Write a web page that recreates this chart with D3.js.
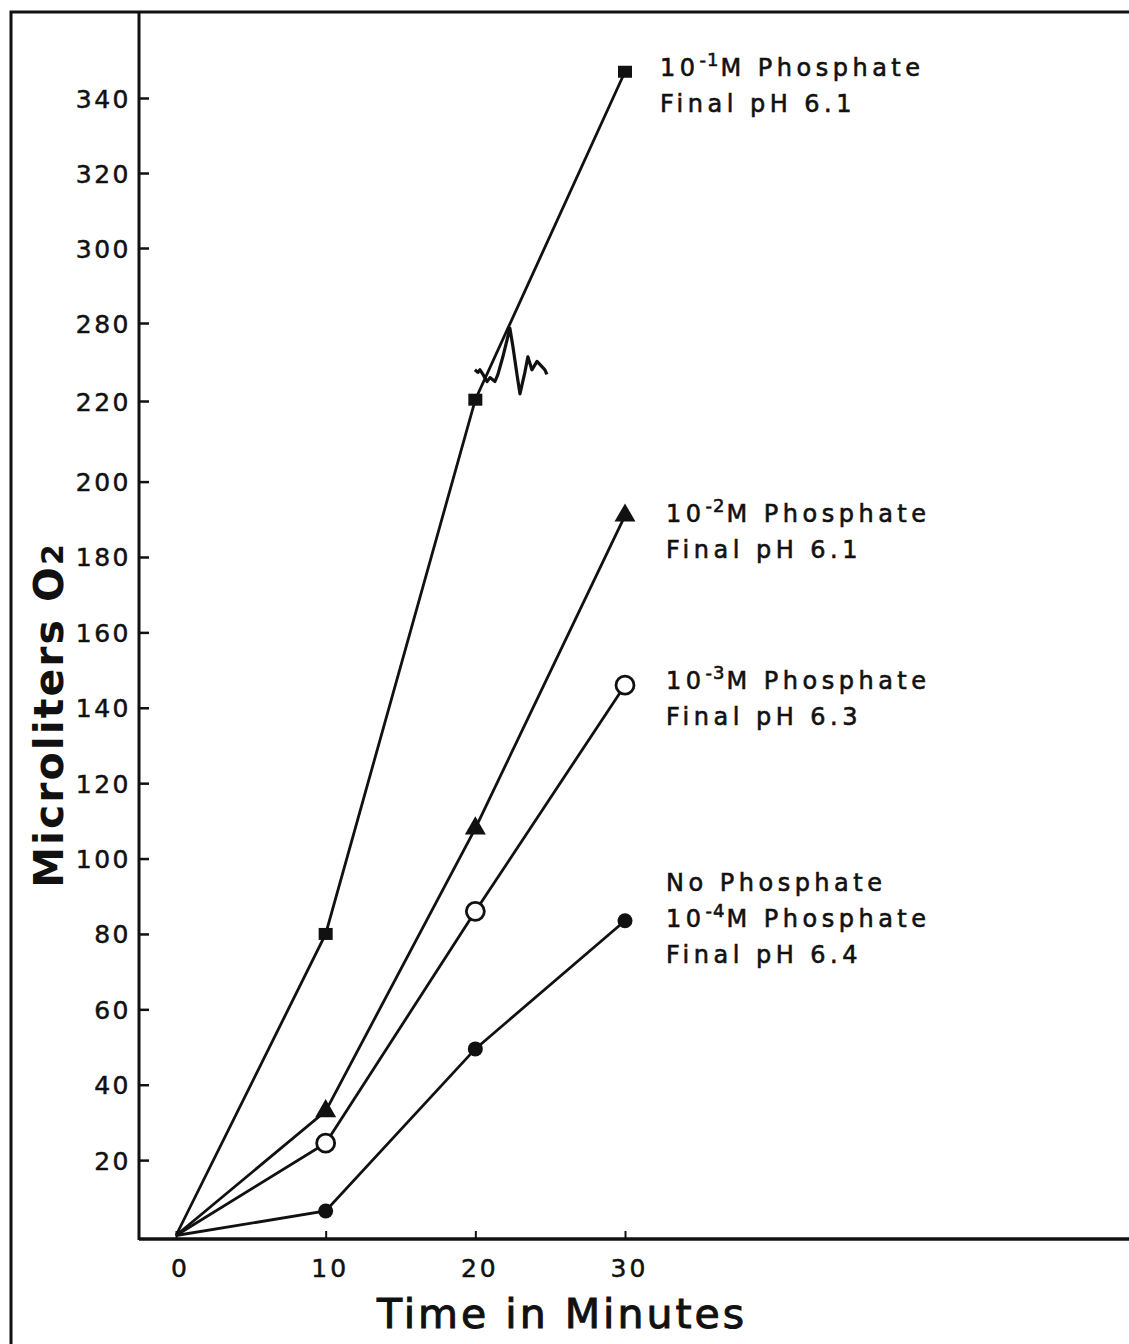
<!DOCTYPE html>
<html>
<head>
<meta charset="utf-8">
<script src="https://cdn.jsdelivr.net/npm/d3@7"></script>
<style>
  body { margin: 0; background: #fff; }
  svg { display: block; }
  text { font-family: "DejaVu Sans", sans-serif; fill: #111; }
</style>
</head>
<body>
<script>
// Data (minutes, microliters O2)
const minutes = [0, 10, 20, 30];
const phos1 = [0, 80, 221, 347];   // 10^-1 M, filled squares
const phos2 = [0, 33, 108, 191];   // 10^-2 M, filled triangles
const phos3 = [0, 24.5, 86, 146];  // 10^-3 M, open circles
const phos4 = [0, 6.5, 49.5, 83.5]; // none / 10^-4 M, filled circles

const xTicks = [0, 10, 20, 30];
const yTicks = [20, 40, 60, 80, 100, 120, 140, 160, 180, 200, 220, 280, 300, 320, 340];

// hand-drawn axis-break squiggle, in data units
const breakMark = [
  [19.97, 244], [20.17, 242], [20.31, 244], [20.51, 240.5], [20.78, 235], [20.98, 238],
  [21.31, 235], [21.51, 240.5], [21.84, 254], [22.31, 276], [22.51, 262], [22.78, 240.5],
  [22.98, 225.5], [23.31, 242], [23.51, 254], [23.78, 244], [24.12, 250.5], [24.45, 246.5],
  [24.65, 244], [24.78, 240.5]
];

const series = [
  { values: phos1, marker: 'square' },
  { values: phos2, marker: 'triangle' },
  { values: phos3, marker: 'open' },
  { values: phos4, marker: 'dot' }
];

const labels = [
  { sup: '-1', lines: ['Final pH 6.1'], x: 660, y: 76 },
  { sup: '-2', lines: ['Final pH 6.1'], x: 666, y: 522 },
  { sup: '-3', lines: ['Final pH 6.3'], x: 666, y: 689 },
  { pre: 'No Phosphate', sup: '-4', lines: ['Final pH 6.4'], x: 666, y: 891 }
];

const W = 1129, H = 1344;
const svg = d3.select('body').append('svg').attr('width', W).attr('height', H);

const x = d3.scaleLinear().domain([0, 30]).range([176, 625]);
// broken axis: 220 jumps to 280
const y = d3.scaleLinear().domain([0, 200, 220, 280, 340]).range([1235.5, 481.6, 401, 323, 98]);

// frame
svg.append('path')
  .attr('d', `M11,${H} V12 H${W}`)
  .attr('fill', 'none').attr('stroke', '#111').attr('stroke-width', 3);

// axes
const yAxis = svg.append('g').attr('transform', 'translate(139,0)')
  .call(d3.axisRight(y).tickValues(yTicks).tickSize(10).tickFormat(''));
yAxis.select('.domain').remove();
yAxis.selectAll('line').attr('stroke', '#111').attr('stroke-width', 2.5);
svg.append('line').attr('x1', 139).attr('x2', 139).attr('y1', 12).attr('y2', 1240)
  .attr('stroke', '#111').attr('stroke-width', 3);

yAxis.selectAll('.tick').append('text')
  .attr('x', -8).attr('dy', '0.36em')
  .attr('text-anchor', 'end')
  .attr('font-size', 25).attr('letter-spacing', 2.5)
  .attr('stroke', '#111').attr('stroke-width', 0.5)
  .text(d => d);

const xAxis = svg.append('g').attr('transform', 'translate(0,1239)')
  .call(d3.axisTop(x).tickValues(xTicks).tickSize(8).tickFormat(''));
xAxis.select('.domain').remove();
xAxis.selectAll('line').attr('stroke', '#111').attr('stroke-width', 2);
svg.append('line').attr('x1', 139).attr('x2', W).attr('y1', 1239).attr('y2', 1239)
  .attr('stroke', '#111').attr('stroke-width', 3.5);

xAxis.selectAll('.tick').append('text')
  .attr('x', 4).attr('y', 38)
  .attr('text-anchor', 'middle')
  .attr('font-size', 25).attr('letter-spacing', 3)
  .attr('stroke', '#111').attr('stroke-width', 0.5)
  .text(d => d);

// axis titles
svg.append('text')
  .attr('x', 562).attr('y', 1328)
  .attr('text-anchor', 'middle')
  .attr('font-size', 41).attr('letter-spacing', 3)
  .attr('stroke', '#111').attr('stroke-width', 1)
  .text('Time in Minutes');

const yt = svg.append('text')
  .attr('transform', 'translate(63,715) rotate(-90)')
  .attr('text-anchor', 'middle')
  .attr('font-size', 41).attr('font-weight', 'bold').attr('letter-spacing', 2);
yt.append('tspan').text('Microliters O');
yt.append('tspan').attr('font-size', 30).text('2');

// lines
const line = d3.line().x((d, i) => x(minutes[i])).y(d => y(d));
svg.selectAll('.series')
  .data(series)
  .enter().append('path')
  .attr('class', 'series')
  .attr('d', s => line(s.values))
  .attr('fill', 'none').attr('stroke', '#111').attr('stroke-width', 2.8);

// axis break squiggle
svg.append('path')
  .attr('d', d3.line().x(d => x(d[0])).y(d => y(d[1]))(breakMark))
  .attr('fill', 'none').attr('stroke', '#111').attr('stroke-width', 3.2)
  .attr('stroke-linejoin', 'round');

// markers (skip the origin)
series.forEach(s => {
  const pts = s.values.map((v, i) => [x(minutes[i]), y(v)]).slice(1);
  const g = svg.append('g');
  if (s.marker === 'square') {
    g.selectAll('rect').data(pts).enter().append('rect')
      .attr('x', d => d[0] - 7).attr('y', d => d[1] - 6)
      .attr('width', 14).attr('height', 12).attr('fill', '#111');
  } else if (s.marker === 'triangle') {
    g.selectAll('path').data(pts).enter().append('path')
      .attr('d', d3.symbol(d3.symbolTriangle, 190))
      .attr('transform', d => `translate(${d[0]},${d[1]})`)
      .attr('fill', '#111');
  } else if (s.marker === 'open') {
    g.selectAll('circle').data(pts).enter().append('circle')
      .attr('cx', d => d[0]).attr('cy', d => d[1]).attr('r', 9)
      .attr('fill', '#fff').attr('stroke', '#111').attr('stroke-width', 2.8);
  } else {
    g.selectAll('circle').data(pts).enter().append('circle')
      .attr('cx', d => d[0]).attr('cy', d => d[1]).attr('r', 7.5)
      .attr('fill', '#111');
  }
});

// labels: each line its own text element
labels.forEach(l => {
  const g = svg.append('g')
    .attr('font-size', 24).attr('letter-spacing', 4.5)
    .attr('stroke', '#111').attr('stroke-width', 0.6);
  let yy = l.y;
  if (l.pre) {
    g.append('text').attr('x', l.x).attr('y', yy).text(l.pre);
    yy += 36;
  }
  const t = g.append('text').attr('x', l.x).attr('y', yy);
  t.append('tspan').text('10');
  t.append('tspan').attr('font-size', 18).attr('dy', -10).attr('letter-spacing', 1).text(l.sup);
  t.append('tspan').attr('dy', 10).attr('dx', 1).text('M Phosphate');
  l.lines.forEach(s => {
    yy += 36;
    g.append('text').attr('x', l.x).attr('y', yy).text(s);
  });
});
</script>
</body>
</html>
